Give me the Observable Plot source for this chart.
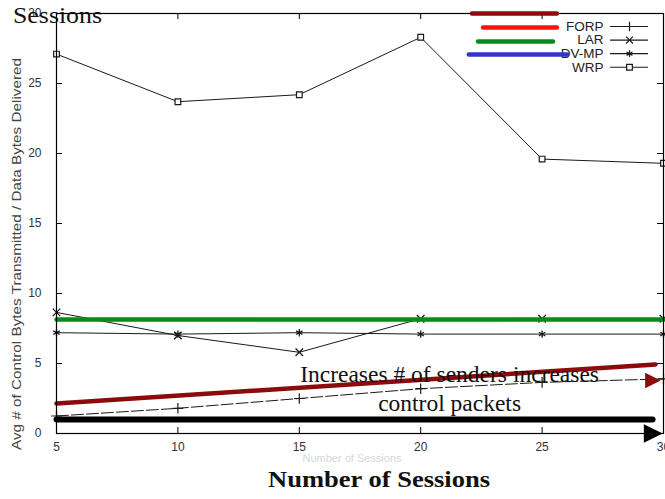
<!DOCTYPE html>
<html>
<head>
<meta charset="utf-8">
<script src="https://cdn.jsdelivr.net/npm/d3@7"></script>
<script src="https://cdn.jsdelivr.net/npm/@observablehq/plot@0.6"></script>
<style>
  html, body { margin: 0; padding: 0; background: white; }
  #chart { width: 665px; height: 499px; }
</style>
</head>
<body>
<div id="chart"></div>
<script>
// ---- Data ----
const sessions = [5, 10, 15, 20, 25, 30];
const forp = [1.25, 1.8, 2.5, 3.2, 3.65, 3.9];
const lar  = [8.65, 7.0, 5.8, 8.2, 8.2, 8.2];
const dvmp = [7.2, 7.1, 7.2, 7.1, 7.1, 7.1];
const wrp  = [27.1, 23.7, 24.2, 28.3, 19.6, 19.3];
const seriesNames = ["FORP", "LAR", "DV-MP", "WRP"];
const xTicks = [5, 10, 15, 20, 25, 30];
const yTicks = [0, 5, 10, 15, 20, 25, 30];

// annotation overlays (data units)
const redTrendX = [5, 29.67];
const redTrendY = [2.14, 4.93];
const blackTrendX = [5, 29.55];
const blackTrendY = [1.0, 1.0];
const greenLevelX = [5, 30];
const greenLevelY = [8.14, 8.14];
const redHeadX = [29.5];
const redHeadY = [3.79];
const blackHeadX = [29.5];
const blackHeadY = [0.0];
const highlightX1 = [22.13, 22.59, 22.38, 22.0];
const highlightX2 = [25.63, 25.63, 25.47, 26.05];
const highlightY  = [30.0, 29.0, 28.0, 27.07];
const highlightColors = ["#8b0a0a", "#ff1010", "#0a8a1a", "#3535c8"];
const annotationLines = ["Increases # of senders increases", "control packets"];
const annotationY = [4.21, 2.14];

// ---- Build tables ----
const table = [];
const allSeries = {FORP: forp, LAR: lar, "DV-MP": dvmp, WRP: wrp};
for (const name of seriesNames) {
  sessions.forEach((s, i) => table.push({series: name, x: s, y: allSeries[name][i]}));
}
const sub = name => table.filter(d => d.series === name);
const symbols = {FORP: "plus", LAR: "times", "DV-MP": "asterisk", WRP: "square"};

const rightTriangle = {
  draw(context, size) {
    const s = Math.sqrt(size);
    context.moveTo(s * 0.75, 0);
    context.lineTo(-s * 0.5, -s * 0.62);
    context.lineTo(-s * 0.5, s * 0.62);
    context.closePath();
  }
};

// tick lengths (6px) in data units
const tickLenY = 6 * 30 / 420;
const tickLenX = 6 * 25 / 607;

// legend layout (computed)
const legendY = seriesNames.map((_, i) => 29.07 - i * 0.97);
const legendRows = seriesNames.map((n, i) => ({name: n, y: legendY[i]}));

const highlights = highlightY.map((y, i) => ({x1: highlightX1[i], x2: highlightX2[i], y, c: highlightColors[i]}));
const pts = (xs, ys) => xs.map((x, i) => ({x, y: ys[i]}));

const lineStroke = "#1a1a1a";

const chart = Plot.plot({
  width: 665,
  height: 499,
  marginLeft: 56,
  marginRight: 2,
  marginTop: 13,
  marginBottom: 66,
  x: {domain: [5, 30]},
  y: {domain: [0, 30]},
  style: {fontFamily: "'Liberation Sans', Arial, sans-serif", fontSize: "12px", color: "#333", background: "white", overflow: "visible"},
  marks: [
    Plot.axisX({ticks: xTicks, tickSize: 0, tickPadding: 9, label: null, tickFormat: d => String(d)}),
    Plot.axisY({ticks: yTicks, tickSize: 0, tickPadding: 15, label: null}),
    // inward ticks on all four sides
    Plot.ruleX(xTicks, {x: d => d, y1: 0, y2: tickLenY, stroke: "black"}),
    Plot.ruleX(xTicks, {x: d => d, y1: 30 - tickLenY, y2: 30, stroke: "black"}),
    Plot.ruleY(yTicks, {y: d => d, x1: 5, x2: 5 + tickLenX, stroke: "black"}),
    Plot.ruleY(yTicks, {y: d => d, x1: 30 - tickLenX, x2: 30, stroke: "black"}),
    // series
    Plot.line(sub("WRP"), {x: "x", y: "y", stroke: lineStroke, strokeWidth: 1}),
    Plot.dot(sub("WRP"), {x: "x", y: "y", symbol: "square", r: 3.2, stroke: lineStroke, fill: "white", strokeWidth: 1.2}),
    Plot.line(sub("LAR"), {x: "x", y: "y", stroke: lineStroke, strokeWidth: 1}),
    Plot.dot(sub("LAR"), {x: "x", y: "y", symbol: "times", r: 3.5, stroke: lineStroke, strokeWidth: 1.3}),
    Plot.line(sub("DV-MP"), {x: "x", y: "y", stroke: lineStroke, strokeWidth: 1}),
    Plot.dot(sub("DV-MP"), {x: "x", y: "y", symbol: "asterisk", r: 3.5, stroke: lineStroke, strokeWidth: 1.3}),
    Plot.line(sub("FORP"), {x: "x", y: "y", stroke: lineStroke, strokeWidth: 1, strokeDasharray: "12,3"}),
    Plot.dot(sub("FORP"), {x: "x", y: "y", symbol: "plus", r: 3.5, stroke: lineStroke, strokeWidth: 1.2}),
    // overlays
    Plot.line(pts(greenLevelX, greenLevelY), {x: "x", y: "y", stroke: "#0a8a1a", strokeWidth: 4.5}),
    Plot.line(pts(redTrendX, redTrendY), {x: "x", y: "y", stroke: "#8b0a0a", strokeWidth: 4.5, strokeLinecap: "round"}),
    Plot.line(pts(blackTrendX, blackTrendY), {x: "x", y: "y", stroke: "black", strokeWidth: 6, strokeLinecap: "round"}),
    Plot.dot(pts(redHeadX, redHeadY), {x: "x", y: "y", symbol: rightTriangle, r: 7, fill: "#8b0a0a", stroke: "none"}),
    Plot.dot(pts(blackHeadX, blackHeadY), {x: "x", y: "y", symbol: rightTriangle, r: 8.5, fill: "black", stroke: "none"}),
    Plot.text(annotationLines.map((t, i) => ({t, y: annotationY[i]})), {x: 21.19, y: "y", text: "t", fontFamily: "'Liberation Serif', 'Times New Roman', serif", fontSize: 23.5, fill: "#111"}),
    Plot.frame({stroke: "black", strokeWidth: 1.2}),
    // top-right legend samples
    Plot.text(legendRows, {x: 27.53, y: "y", text: "name", textAnchor: "end", fontSize: 13.5, fill: "#222"}),
    Plot.ruleY(legendRows, {y: "y", x1: 27.82, x2: 29.38, stroke: lineStroke, strokeWidth: 1.2, strokeDasharray: d => d.name === "FORP" ? "6,3" : null}),
    Plot.dot(legendRows, {x: 28.6, y: "y", symbol: d => symbols[d.name], r: 3.2, stroke: lineStroke, fill: d => d.name === "WRP" ? "white" : "none", strokeWidth: 1.2}),
    // colored highlight strokes over the legend
    Plot.ruleY(highlights, {y: "y", x1: "x1", x2: "x2", stroke: "c", strokeWidth: 4.5, strokeLinecap: "round"})
  ]
});

const svg = d3.select(chart);
svg.append("text").text("Avg # of Control Bytes Transmitted / Data Bytes Delivered")
  .attr("transform", "translate(21,254) rotate(-90)")
  .attr("text-anchor", "middle").attr("font-size", 13).attr("fill", "#444")
  .attr("textLength", 392).attr("lengthAdjust", "spacingAndGlyphs")
  .attr("font-family", "'Liberation Sans', Arial, sans-serif");
svg.append("text").text("Number of Sessions")
  .attr("x", 352).attr("y", 462).attr("text-anchor", "middle").attr("font-size", 11)
  .attr("fill", "#d8d8d8").attr("font-family", "'Liberation Sans', Arial, sans-serif");
svg.append("text").text("Number of Sessions")
  .attr("x", 268).attr("y", 487).attr("text-anchor", "start").attr("font-size", 23)
  .attr("textLength", 222).attr("lengthAdjust", "spacingAndGlyphs")
  .attr("font-weight", "bold").attr("fill", "#111")
  .attr("font-family", "'Liberation Serif', 'Times New Roman', serif");
svg.append("text").text("Sessions")
  .attr("x", 13).attr("y", 23).attr("text-anchor", "start").attr("font-size", 23)
  .attr("textLength", 89).attr("lengthAdjust", "spacingAndGlyphs").attr("fill", "#111")
  .attr("font-family", "'Liberation Serif', 'Times New Roman', serif");

document.getElementById("chart").appendChild(chart);
</script>
</body>
</html>
